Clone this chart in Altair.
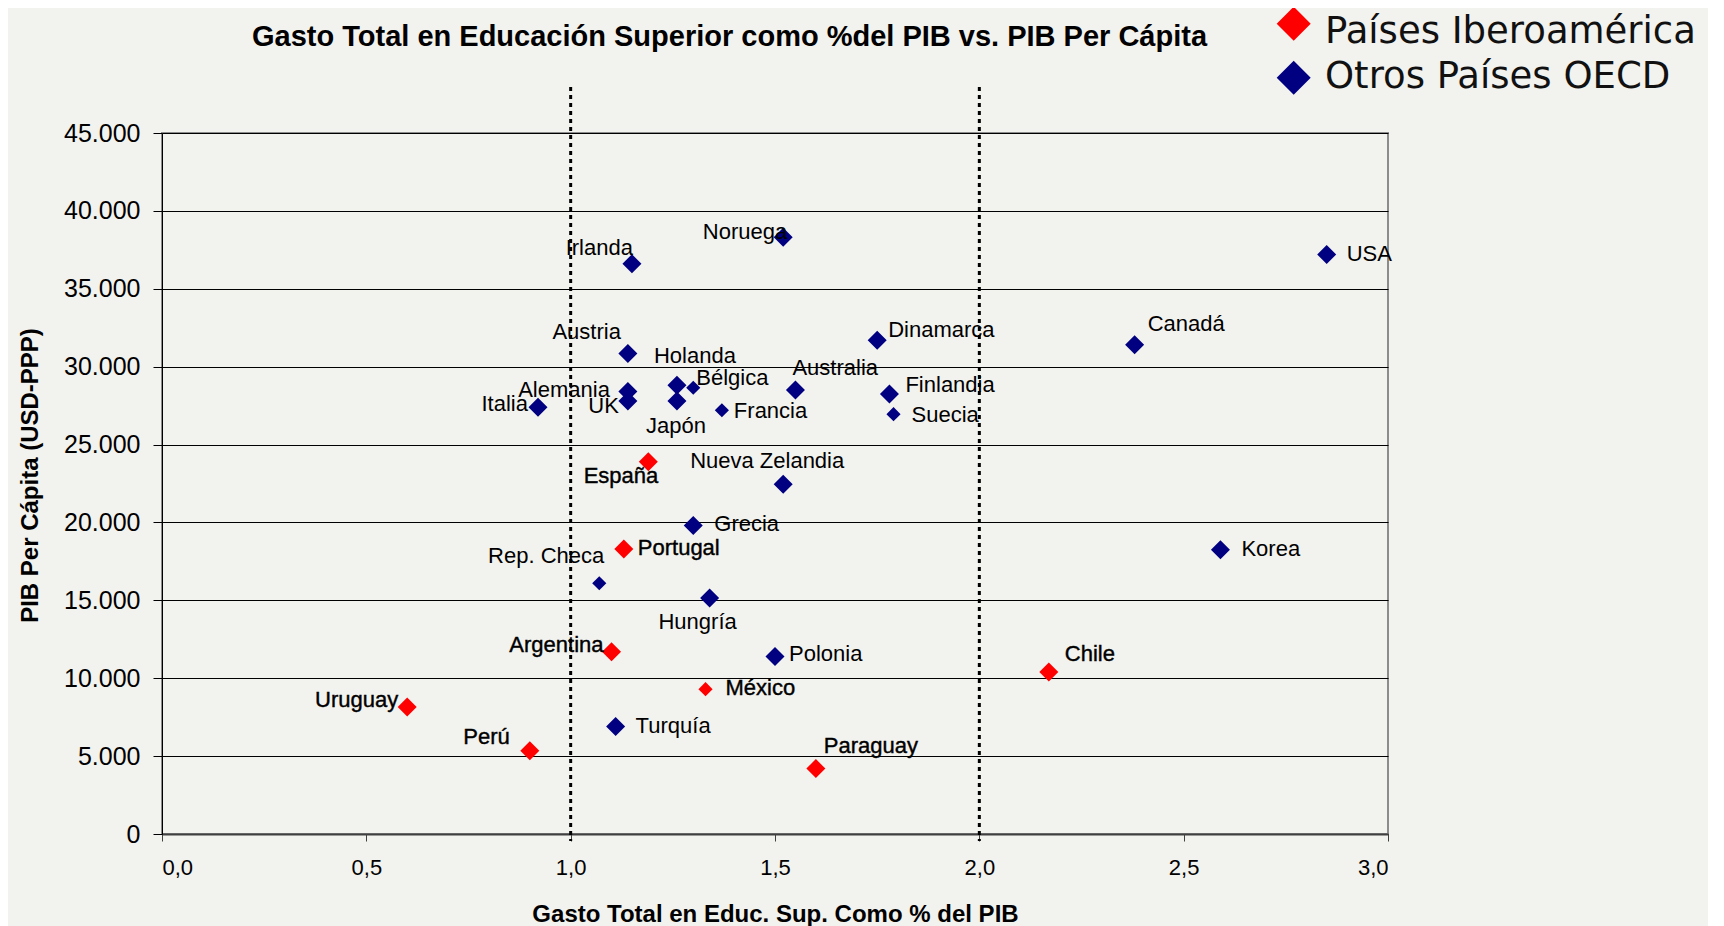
import altair as alt
import pandas as pd

IBERO = "Países Iberoamérica"
OECD = "Otros Países OECD"

paises = ["España", "Portugal", "Argentina", "Chile", "México", "Uruguay", "Perú", "Paraguay",
          "Irlanda", "Noruega", "USA", "Austria", "Holanda", "Bélgica", "Alemania", "UK",
          "Japón", "Italia", "Francia", "Australia", "Dinamarca", "Finlandia", "Suecia",
          "Canadá", "Nueva Zelandia", "Grecia", "Rep. Checa", "Hungría", "Korea", "Polonia",
          "Turquía"]
grupos = [IBERO] * 8 + [OECD] * 23
gasto = [1.19, 1.13, 1.10, 2.17, 1.33, 0.60, 0.90, 1.60,
         1.15, 1.52, 2.85, 1.14, 1.26, 1.30, 1.14, 1.14,
         1.26, 0.92, 1.37, 1.55, 1.75, 1.78, 1.79,
         2.38, 1.52, 1.30, 1.07, 1.34, 2.59, 1.50,
         1.11]
pib = [23900, 18300, 11700, 10400, 9300, 8150, 5350, 4200,
       36600, 38300, 37200, 30850, 28800, 28650, 28400, 27800,
       27800, 27400, 27200, 28500, 31700, 28250, 26950,
       31400, 22450, 19800, 16100, 15150, 18250, 11400,
       6900]

ref_x = [1.0, 2.0]
x_ticks = [0, 0.5, 1.0, 1.5, 2.0, 2.5, 3.0]
y_ticks = [0, 5000, 10000, 15000, 20000, 25000, 30000, 35000, 40000, 45000]

titulo = "Gasto Total en Educación Superior como %del PIB vs. PIB Per Cápita"
x_titulo = "Gasto Total en Educ. Sup. Como % del PIB"
y_titulo = "PIB Per Cápita (USD-PPP)"

# styles (not data)
small_markers = ["Bélgica", "Francia", "Suecia", "Rep. Checa", "México"]
label_style = {
    "Irlanda": ("right", 1, -9), "Noruega": ("right", 4, 2), "Austria": ("right", -7, -14),
    "Holanda": ("left", -23, -22), "Bélgica": ("left", 3, -3), "Alemania": ("right", -18, 5),
    "UK": ("right", -9, 12), "Italia": ("right", -10, 4), "Francia": ("left", 12, 8),
    "Japón": ("center", -1, 32), "Australia": ("left", -3, -15), "Dinamarca": ("left", 11, -3),
    "Canadá": ("left", 13, -14), "Finlandia": ("left", 16, -2), "Suecia": ("left", 18, 8),
    "USA": ("left", 20, 6), "Korea": ("left", 21, 6), "Chile": ("left", 16, -11),
    "España": ("right", 10, 21), "Nueva Zelandia": ("center", -16, -16), "Grecia": ("left", 21, 5),
    "Portugal": ("left", 14, 6), "Rep. Checa": ("right", 5, -20), "Hungría": ("center", -12, 31),
    "Argentina": ("right", -8, 0), "Polonia": ("left", 14, 5), "México": ("left", 20, 6),
    "Uruguay": ("right", -9, 0), "Turquía": ("left", 20, 6), "Perú": ("right", -20, -7),
    "Paraguay": ("left", 8, -16),
}

df = pd.DataFrame({"pais": paises, "grupo": grupos, "gasto": gasto, "pib": pib})
df_ref = pd.DataFrame({"gasto": ref_x})

LAB = "Liberation Sans"
W, H = 1226, 701

x_scale = alt.Scale(domain=[0, 3], nice=False, zero=True)
y_scale = alt.Scale(domain=[0, 45000], nice=False, zero=True)

x_axis = alt.Axis(
    values=x_ticks, title=x_titulo,
    labelExpr="replace(format(datum.value, '.1f'), '.', ',')",
    labelFont=LAB, labelFontSize=22, labelColor="black", labelPadding=16,
    tickSize=7, tickColor="#404040", tickWidth=1,
    domainColor="#404040", domainWidth=2, grid=False,
    titleFont=LAB, titleFontSize=24, titleFontWeight="bold", titleColor="black",
    titleX=W / 2, titleY=87, titleBaseline="alphabetic", titleAlign="center",
)
y_axis = alt.Axis(
    values=y_ticks, title=y_titulo,
    labelExpr="replace(format(datum.value, ',.0f'), ',', '.')",
    labelFont=LAB, labelFontSize=25, labelColor="black", labelPadding=13,
    tickSize=9, tickColor="black", tickWidth=1,
    domainColor="black", domainWidth=1,
    grid=True, gridColor="black", gridWidth=1, gridOpacity=1,
    titleFont=LAB, titleFontSize=24, titleFontWeight="bold", titleColor="black",
    titleX=-132, titleY=342, titleBaseline="middle", titleAlign="center", titleAngle=270,
)

color = alt.Color("grupo:N", scale=alt.Scale(domain=[IBERO, OECD], range=["#ff0000", "#000080"]),
                  legend=None)

points = alt.Chart(df).mark_point(shape="diamond", filled=True, opacity=1, strokeWidth=0).encode(
    x=alt.X("gasto:Q", scale=x_scale, axis=x_axis),
    y=alt.Y("pib:Q", scale=y_scale, axis=y_axis),
    color=color,
    size=alt.condition(alt.FieldOneOfPredicate(field="pais", oneOf=small_markers),
                       alt.value(200), alt.value(361)),
)

rules = alt.Chart(df_ref).mark_rule(strokeDash=[4, 4], strokeWidth=3, color="black").encode(
    x=alt.X("gasto:Q", scale=x_scale),
    y=alt.value(-46), y2=alt.value(708),
)

labels = []
for name, grp in zip(paises, grupos):
    align, dx, dy = label_style[name]
    extra = {}
    if grp == IBERO:
        extra = dict(stroke="black", strokeWidth=0.4)
    labels.append(
        alt.Chart(df).transform_filter(alt.datum.pais == name).mark_text(
            align=align, baseline="alphabetic", dx=dx, dy=dy, font=LAB, fontSize=22,
            color="black", **extra
        ).encode(x=alt.X("gasto:Q", scale=x_scale), y=alt.Y("pib:Q", scale=y_scale), text="pais:N")
    )

title_layer = alt.Chart(pd.DataFrame({"t": [titulo]})).mark_text(
    align="center", baseline="alphabetic", font=LAB, fontSize=29, fontWeight="bold", color="black"
).encode(x=alt.value(567.5), y=alt.value(-87), text="t:N")

leg_font = "DejaVu Sans"
leg1_sym = alt.Chart(pd.DataFrame({"g": [IBERO]})).mark_point(
    shape="diamond", filled=True, opacity=1, size=1156, color="#ff0000", strokeWidth=0
).encode(x=alt.value(1131.7), y=alt.value(-109.3))
leg1_txt = alt.Chart(pd.DataFrame({"g": [IBERO]})).mark_text(
    align="left", baseline="alphabetic", font=leg_font, fontSize=37, color="#111111"
).encode(x=alt.value(1163), y=alt.value(-89.7), text="g:N")
leg2_sym = alt.Chart(pd.DataFrame({"g": [OECD]})).mark_point(
    shape="diamond", filled=True, opacity=1, size=1156, color="#000080", strokeWidth=0
).encode(x=alt.value(1131.7), y=alt.value(-55.3))
leg2_txt = alt.Chart(pd.DataFrame({"g": [OECD]})).mark_text(
    align="left", baseline="alphabetic", font=leg_font, fontSize=37, color="#111111"
).encode(x=alt.value(1163), y=alt.value(-44.7), text="g:N")

chart = alt.layer(
    points, rules, *labels, title_layer, leg1_sym, leg1_txt, leg2_sym, leg2_txt
).properties(
    width=W, height=H,
    autosize=alt.AutoSizeParams(type="none"),
    padding={"left": 154, "top": 125, "right": 320, "bottom": 92},
    background="#f2f2ee",
).configure_view(stroke="#8c8c8c", strokeWidth=2)

chart.save("out.html", embed_options={"renderer": "svg", "actions": False})
